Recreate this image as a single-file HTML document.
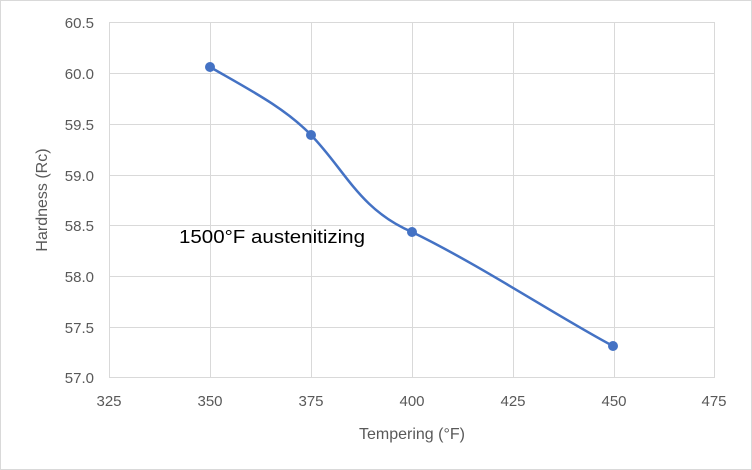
<!DOCTYPE html>
<html><head><style>
html,body{margin:0;padding:0;background:#fff;}
svg{display:block;}
text{font-family:"Liberation Sans",sans-serif;fill:#595959;}
</style></head><body>
<svg width="752" height="470" viewBox="0 0 752 470">
<rect x="0.5" y="0.5" width="751" height="469" fill="#fff" stroke="#d9d9d9"/>
<g stroke="#d9d9d9" stroke-width="1">
<line x1="109" y1="22.5" x2="715" y2="22.5"/>
<line x1="109" y1="73.5" x2="715" y2="73.5"/>
<line x1="109" y1="124.5" x2="715" y2="124.5"/>
<line x1="109" y1="175.5" x2="715" y2="175.5"/>
<line x1="109" y1="225.5" x2="715" y2="225.5"/>
<line x1="109" y1="276.5" x2="715" y2="276.5"/>
<line x1="109" y1="327.5" x2="715" y2="327.5"/>
<line x1="109" y1="377.5" x2="715" y2="377.5"/>
<line x1="109.5" y1="22" x2="109.5" y2="377"/>
<line x1="210.5" y1="22" x2="210.5" y2="377"/>
<line x1="311.5" y1="22" x2="311.5" y2="377"/>
<line x1="412.5" y1="22" x2="412.5" y2="377"/>
<line x1="513.5" y1="22" x2="513.5" y2="377"/>
<line x1="614.5" y1="22" x2="614.5" y2="377"/>
<line x1="714.5" y1="22" x2="714.5" y2="377"/>
</g>
<g font-size="15" text-anchor="end">
<text x="94" y="28">60.5</text>
<text x="94" y="79">60.0</text>
<text x="94" y="130">59.5</text>
<text x="94" y="181">59.0</text>
<text x="94" y="231">58.5</text>
<text x="94" y="282">58.0</text>
<text x="94" y="333">57.5</text>
<text x="94" y="383">57.0</text>
</g>
<g font-size="15" text-anchor="middle">
<text x="109" y="406">325</text>
<text x="210" y="406">350</text>
<text x="311" y="406">375</text>
<text x="412" y="406">400</text>
<text x="513" y="406">425</text>
<text x="614" y="406">450</text>
<text x="714" y="406">475</text>
<text x="412" y="439" font-size="16">Tempering (°F)</text>
<text transform="translate(47,200) rotate(-90)" font-size="16">Hardness (Rc)</text>
</g>
<path d="M210,67 C250,90 285,108 311,135 C345,170 360,210 412,232 C480,265 560,318 613,346" fill="none" stroke="#4472c4" stroke-width="2.5"/>
<g fill="#4472c4">
<circle cx="210" cy="67" r="5"/><circle cx="311" cy="135" r="5"/>
<circle cx="412" cy="232" r="5"/><circle cx="613" cy="346" r="5"/>
</g>
<text x="179" y="243" font-size="18" textLength="186" lengthAdjust="spacingAndGlyphs" style="fill:#000">1500°F austenitizing</text>
</svg>
</body></html>
